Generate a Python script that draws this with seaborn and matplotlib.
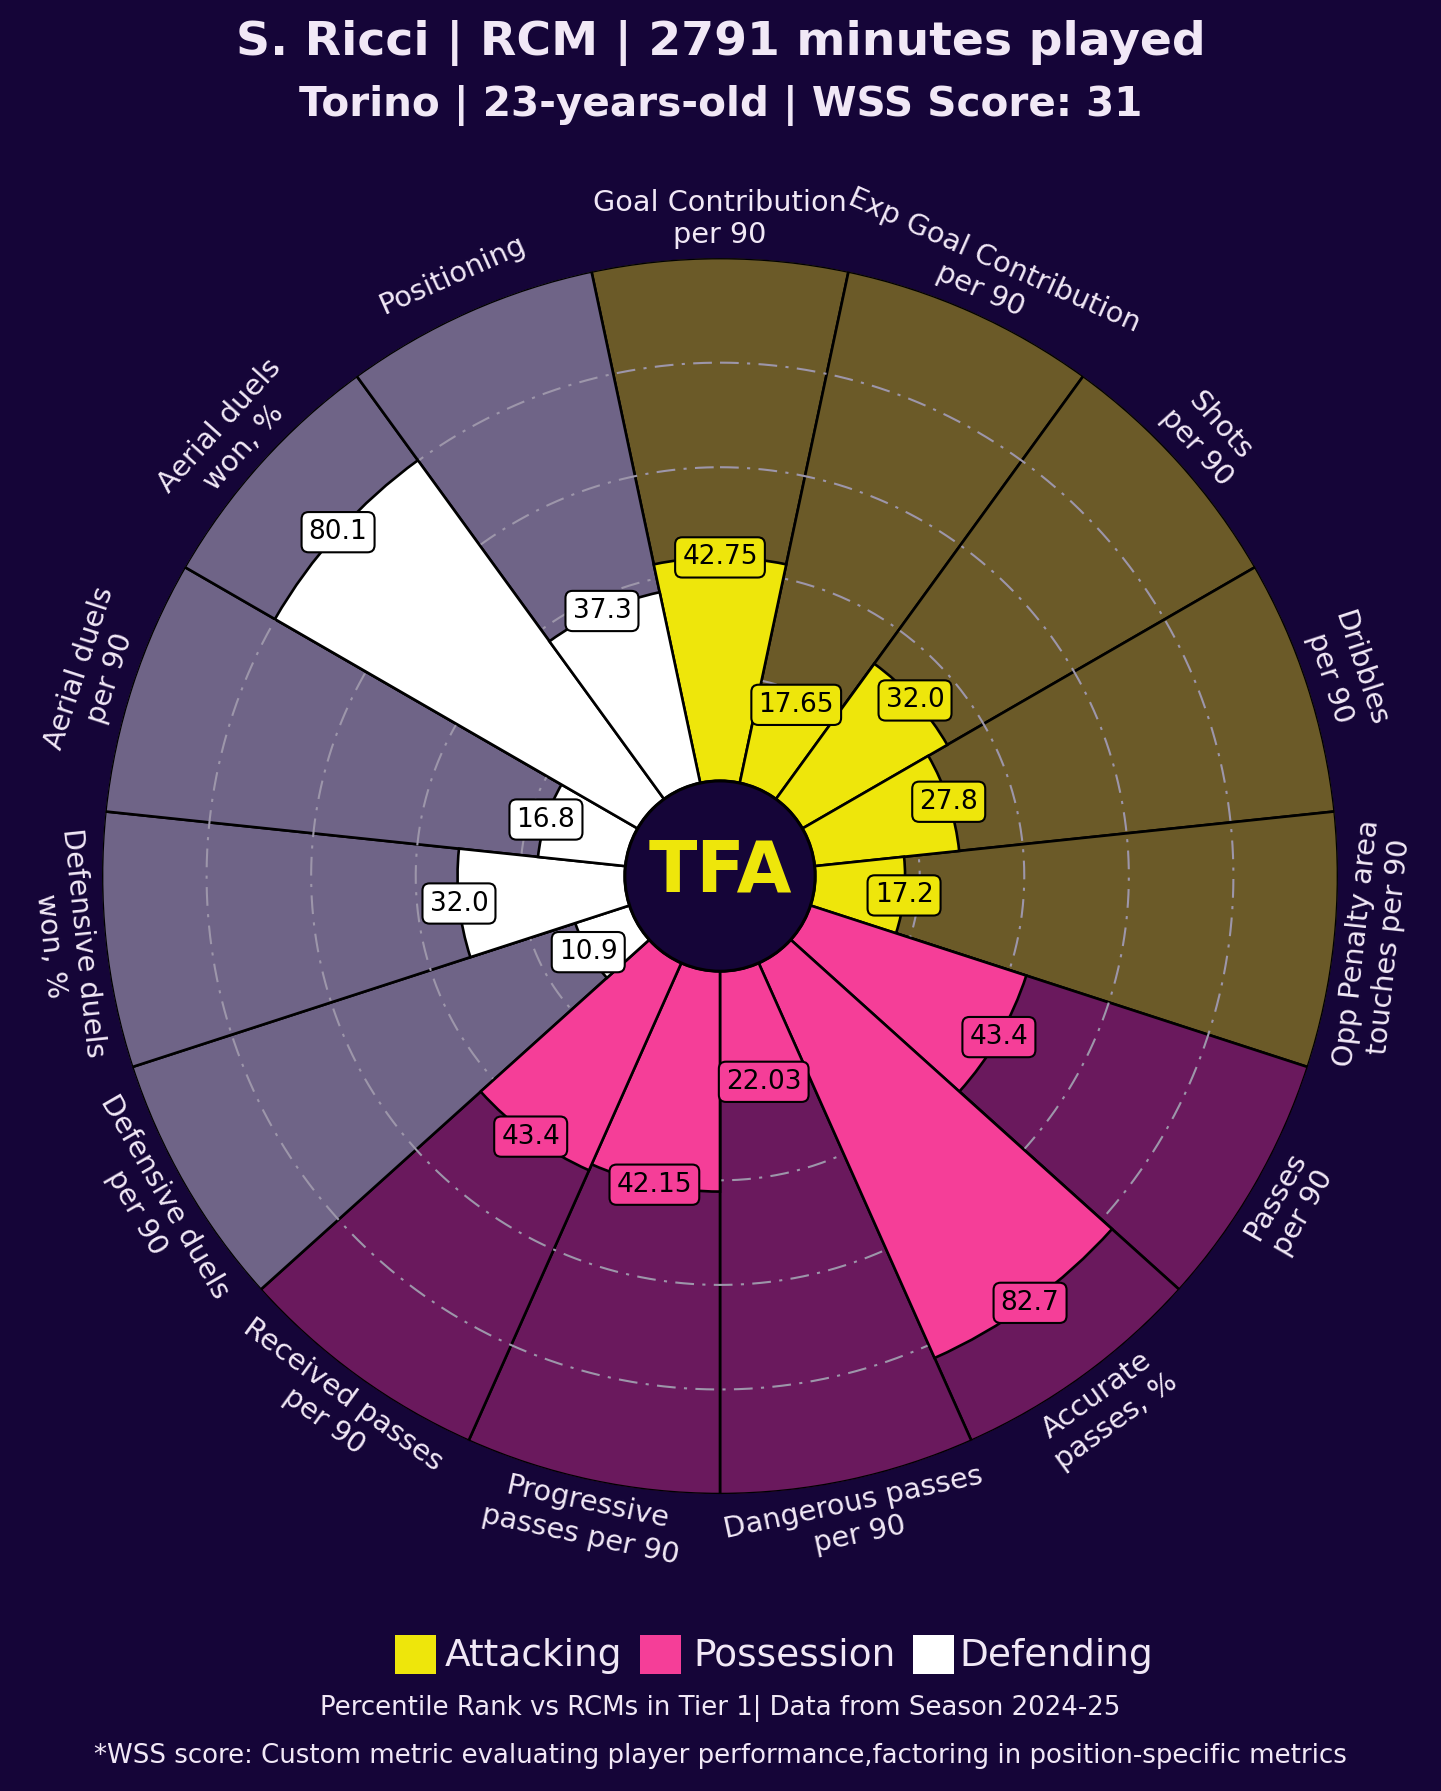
import numpy as np
import matplotlib
matplotlib.use("Agg")
import matplotlib.pyplot as plt
import seaborn as sns
from matplotlib.patches import Circle, Rectangle

# ---------------- data ----------------
params = [
    "Goal Contribution\nper 90",
    "Exp Goal Contribution\nper 90",
    "Shots\nper 90",
    "Dribbles\nper 90",
    "Opp Penalty area\ntouches per 90",
    "Passes\nper 90",
    "Accurate\npasses, %",
    "Dangerous passes\nper 90",
    "Progressive\npasses per 90",
    "Received passes\nper 90",
    "Defensive duels\nper 90",
    "Defensive duels\nwon, %",
    "Aerial duels\nper 90",
    "Aerial duels\nwon, %",
    "Positioning",
]
values = [42.75, 17.65, 32.0, 27.8, 17.2,
          43.4, 82.7, 22.03, 42.15, 43.4,
          10.9, 32.0, 16.8, 80.1, 37.3]
groups = ["Attacking"] * 5 + ["Possession"] * 5 + ["Defending"] * 5
legend_labels = ["Attacking", "Possession", "Defending"]

title = "S. Ricci | RCM | 2791 minutes played"
subtitle = "Torino | 23-years-old | WSS Score: 31"
note1 = "Percentile Rank vs RCMs in Tier 1| Data from Season 2024-25"
note2 = "*WSS score: Custom metric evaluating player performance,factoring in position-specific metrics"

# ---------------- style ----------------
BG = "#150538"
TXT = "#F1E8F6"
fg_colors = {"Attacking": "#EEE60B", "Possession": "#F53E98", "Defending": "#FFFFFF"}
bg_colors = {"Attacking": "#6B5A28", "Possession": "#6A195D", "Defending": "#6F6487"}

sns.set_theme(style="white")
plt.rcParams["font.family"] = ["DejaVu Sans"]

fig = plt.figure(figsize=(14.41, 17.91), dpi=100, facecolor=BG)
ax = fig.add_axes([0.0708, 0.1658, 0.8577, 0.6901], projection="polar")
ax.set_facecolor("none")
ax.set_theta_zero_location("N")
ax.set_theta_direction(-1)
BOT = -18.2
ax.set_ylim(BOT, 100)
ax.grid(False)
ax.set_xticks([])
ax.set_yticks([])
ax.spines["polar"].set_visible(False)

n = len(params)
width = 2 * np.pi / n
theta = np.arange(n) * width

# background slices
ax.bar(theta, [100 - BOT] * n, width=width, bottom=BOT,
       color=[bg_colors[g] for g in groups], edgecolor="black", linewidth=1.9, zorder=1)

# grid circles
tt = np.linspace(0, 2 * np.pi, 600)
for r in [20, 40, 60, 80]:
    ax.plot(tt, np.full_like(tt, r), color="#9d96aa", lw=1.5,
            ls=(0, (9, 4, 1.5, 4)), zorder=2)

# value bars
ax.bar(theta, values, width=width, bottom=0,
       color=[fg_colors[g] for g in groups], edgecolor="black", linewidth=1.9, zorder=3)

# value labels
for th, v, g in zip(theta, values, groups):
    ax.text(th, v, str(v), ha="center", va="center", fontsize=19, color="black", zorder=8,
            bbox=dict(boxstyle="round,pad=0.27", fc=fg_colors[g], ec="black", lw=1.5))

# param labels
for k, (th, lab) in enumerate(zip(theta, params)):
    ang = (90 - np.degrees(th)) % 360
    if 0 <= ang < 180:
        rot = ang - 90
    else:
        rot = ang + 90
    ax.text(th, 107.5, lab, rotation=rot, rotation_mode="anchor", ha="center", va="center",
            fontsize=20.7, color=TXT, multialignment="center", zorder=8, clip_on=False)

# centre disc with logo
rad = 0.5 * (0 - BOT) / (100 - BOT)
ax.add_patch(Circle((0.5, 0.5), rad, transform=ax.transAxes, fc=BG, ec="black",
                    lw=2.2, zorder=9, clip_on=False))
ax.text(0.5, 0.503, "TFA", transform=ax.transAxes, ha="center", va="center",
        fontsize=51, fontweight="heavy", color=fg_colors["Attacking"], zorder=10)

# titles
fig.text(0.5, 1 - 43 / 1791, title, ha="center", va="center", fontsize=34,
         fontweight="bold", color=TXT)
fig.text(0.5, 1 - 105 / 1791, subtitle, ha="center", va="center", fontsize=29.2,
         fontweight="bold", color=TXT)

# legend
sq_x = [395, 640, 913]
tx_x = [445, 693, 959]
for lab, sx, tx in zip(legend_labels, sq_x, tx_x):
    fig.patches.append(Rectangle((sx / 1441, (1791 - 1674) / 1791), 41 / 1441, 39 / 1791,
                                 transform=fig.transFigure, fc=fg_colors[lab], ec="none"))
    fig.text(tx / 1441, (1791 - 1656) / 1791, lab, ha="left", va="center",
             fontsize=27, color=TXT)

fig.text(0.5, 1 - 1709 / 1791, note1, ha="center", va="center", fontsize=18.7, color=TXT)
fig.text(0.5, 1 - 1756 / 1791, note2, ha="center", va="center", fontsize=18.7, color=TXT)

fig.savefig("out.png", dpi=100, facecolor=BG)
